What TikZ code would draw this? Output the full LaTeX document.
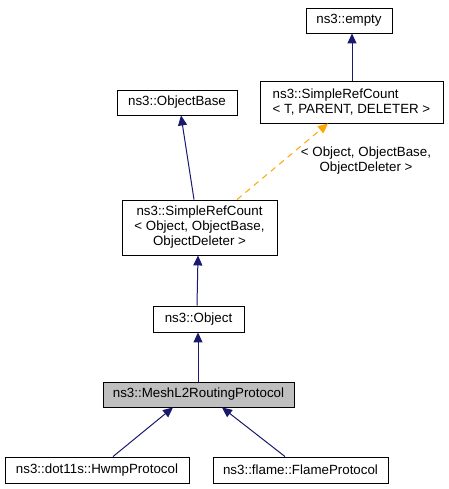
\documentclass[tikz,border=0pt]{standalone}
\usepackage{fontspec}
\setmainfont{Liberation Sans}
\usetikzlibrary{arrows.meta}
\definecolor{edgeblue}{HTML}{191970}
\definecolor{edgeorange}{HTML}{FFA500}
\definecolor{nodegray}{HTML}{BFBFBF}
\begin{document}
\begin{tikzpicture}[x=1pt,y=-1pt,
  cls/.style={draw=black, line width=0.9pt, fill=white, inner sep=0pt, anchor=center,
    font=\fontsize{13.33}{15}\selectfont},
  inh/.style={draw=edgeblue, line width=1pt, -{Triangle[length=10pt,width=9pt]}},
  tmpl/.style={draw=edgeorange, line width=1pt, dashed, dash pattern=on 6pt off 5pt,
    -{Triangle[length=10pt,width=9pt]}},
  lbl/.style={inner sep=0pt, align=center, font=\fontsize{13.33}{15}\selectfont}]
\useasboundingbox (0,0) rectangle (448,489);
\fill[white] (0,0) rectangle (448,489);

\node[cls, minimum width=86pt, minimum height=25pt] (empty) at (349,20.5) {ns3::empty};
\node[cls, minimum width=183pt, minimum height=42pt, align=left] (srct) at (351.5,102) {ns3::SimpleRefCount\\{<} T, PARENT, DELETER {>}};
\node[cls, minimum width=120pt, minimum height=25pt] (objbase) at (177,102.5) {ns3::ObjectBase};
\node[cls, minimum width=155pt, minimum height=55pt, align=center] (srco) at (199.5,227.5) {ns3::SimpleRefCount\\{<} Object, ObjectBase,\\ObjectDeleter {>}};
\node[cls, minimum width=91pt, minimum height=26pt] (object) at (198.5,319) {ns3::Object};
\node[cls, fill=nodegray, minimum width=191pt, minimum height=25pt] (mesh) at (198.5,394.5) {ns3::MeshL2RoutingProtocol};
\node[cls, minimum width=184pt, minimum height=26pt] (hwmp) at (97,470) {ns3::dot11s::HwmpProtocol};
\node[cls, minimum width=175pt, minimum height=26pt] (flame) at (300.5,470) {ns3::flame::FlameProtocol};

\draw[inh] ([xshift=0.5pt]srct.north) -- ([xshift=3pt]empty.south);
\draw[inh] ([xshift=-5.5pt]srco.north) -- ([xshift=4pt]objbase.south);
\draw[tmpl] ([xshift=37.5pt]srco.north) -- ([xshift=-23.5pt]srct.south);
\draw[inh] ([xshift=-1.5pt]object.north) -- ([xshift=-1.5pt]srco.south);
\draw[inh] ([xshift=-0.5pt]mesh.north) -- ([xshift=-0.5pt]object.south);
\draw[inh] ([xshift=16pt]hwmp.north) -- ([xshift=-25.5pt]mesh.south);
\draw[inh] ([xshift=-15.5pt]flame.north) -- ([xshift=23.5pt]mesh.south);

\node[lbl] (tlabel) at (366,160.5) {{<} Object, ObjectBase,\\ObjectDeleter {>}};
\end{tikzpicture}
\end{document}
